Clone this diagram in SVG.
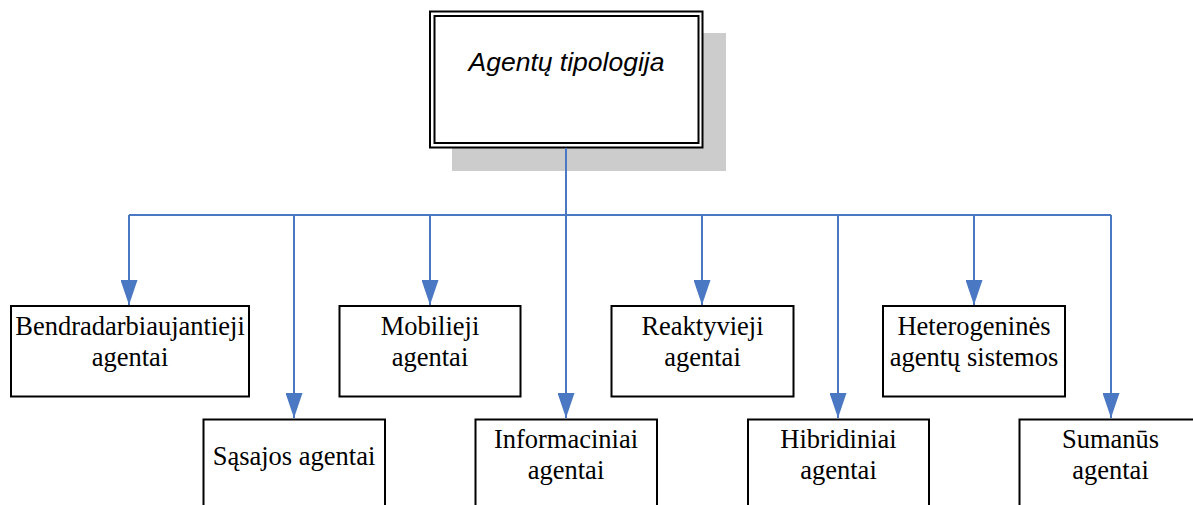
<svg xmlns="http://www.w3.org/2000/svg" width="1193" height="505" viewBox="0 0 1193 505">
  <style>
    .box { fill: #ffffff; stroke: #000000; stroke-width: 2; }
    .lbl { font-family: "Liberation Serif", "Times New Roman", serif; font-size: 26.5px; fill: #000000; text-anchor: middle; }
    .title { font-family: "Liberation Sans", Arial, sans-serif; font-size: 26.5px; font-style: italic; fill: #000000; text-anchor: middle; }
    .link { fill: none; stroke: #4a78c2; stroke-width: 2; }
  </style>
  <defs>
    <marker id="arrow" markerUnits="userSpaceOnUse" markerWidth="25" markerHeight="17" refX="25" refY="8.5" viewBox="0 0 25 17" orient="auto">
      <path d="M0,0 L25,8.5 L0,17 Z" fill="#4a78c2"/>
    </marker>
  </defs>
  <rect width="1193" height="505" fill="#ffffff"/>

  <!-- root node with drop shadow and double border -->
  <g id="root">
    <rect x="452" y="33" width="274" height="138" fill="#cccccc"/>
    <rect x="430" y="11.5" width="272.5" height="136" fill="#ffffff" stroke="#000000" stroke-width="2"/>
    <rect x="434.5" y="16" width="264" height="127" fill="none" stroke="#000000" stroke-width="2"/>
    <text class="title" x="566.5" y="71">Agentų tipologija</text>
  </g>

  <!-- connectors -->
  <g id="connectors">
    <path class="link" d="M566,148 V215"/>
    <path class="link" d="M129,215 H1111"/>
    <path class="link" d="M129,215 V305" marker-end="url(#arrow)"/>
    <path class="link" d="M294,215 V418" marker-end="url(#arrow)"/>
    <path class="link" d="M430,215 V305" marker-end="url(#arrow)"/>
    <path class="link" d="M566,215 V418" marker-end="url(#arrow)"/>
    <path class="link" d="M702,215 V305" marker-end="url(#arrow)"/>
    <path class="link" d="M838,215 V418" marker-end="url(#arrow)"/>
    <path class="link" d="M974,215 V305" marker-end="url(#arrow)"/>
    <path class="link" d="M1111,215 V418" marker-end="url(#arrow)"/>
  </g>

  <!-- upper row -->
  <g id="bendradarbiaujantieji">
    <rect class="box" x="11" y="306" width="238" height="90.5"/>
    <text class="lbl" x="130" y="335">Bendradarbiaujantieji</text>
    <text class="lbl" x="130" y="366">agentai</text>
  </g>
  <g id="mobilieji">
    <rect class="box" x="339.5" y="306" width="181" height="90.5"/>
    <text class="lbl" x="430" y="335">Mobilieji</text>
    <text class="lbl" x="430" y="366">agentai</text>
  </g>
  <g id="reaktyvieji">
    <rect class="box" x="611.5" y="306" width="182" height="90.5"/>
    <text class="lbl" x="702.5" y="335">Reaktyvieji</text>
    <text class="lbl" x="702.5" y="366">agentai</text>
  </g>
  <g id="heterogenines">
    <rect class="box" x="883" y="306" width="182" height="90.5"/>
    <text class="lbl" x="974" y="335">Heterogeninės</text>
    <text class="lbl" x="974" y="366">agentų sistemos</text>
  </g>

  <!-- lower row -->
  <g id="sasajos">
    <rect class="box" x="203.5" y="419.5" width="181.5" height="100"/>
    <text class="lbl" x="294" y="465">Sąsajos agentai</text>
  </g>
  <g id="informaciniai">
    <rect class="box" x="475.5" y="419.5" width="181.5" height="100"/>
    <text class="lbl" x="566" y="448">Informaciniai</text>
    <text class="lbl" x="566" y="479">agentai</text>
  </g>
  <g id="hibridiniai">
    <rect class="box" x="748" y="419.5" width="181" height="100"/>
    <text class="lbl" x="838.5" y="448">Hibridiniai</text>
    <text class="lbl" x="838.5" y="479">agentai</text>
  </g>
  <g id="sumanus">
    <rect class="box" x="1019.5" y="419.5" width="182" height="100"/>
    <text class="lbl" x="1110.5" y="448">Sumanūs</text>
    <text class="lbl" x="1110.5" y="479">agentai</text>
  </g>
</svg>
